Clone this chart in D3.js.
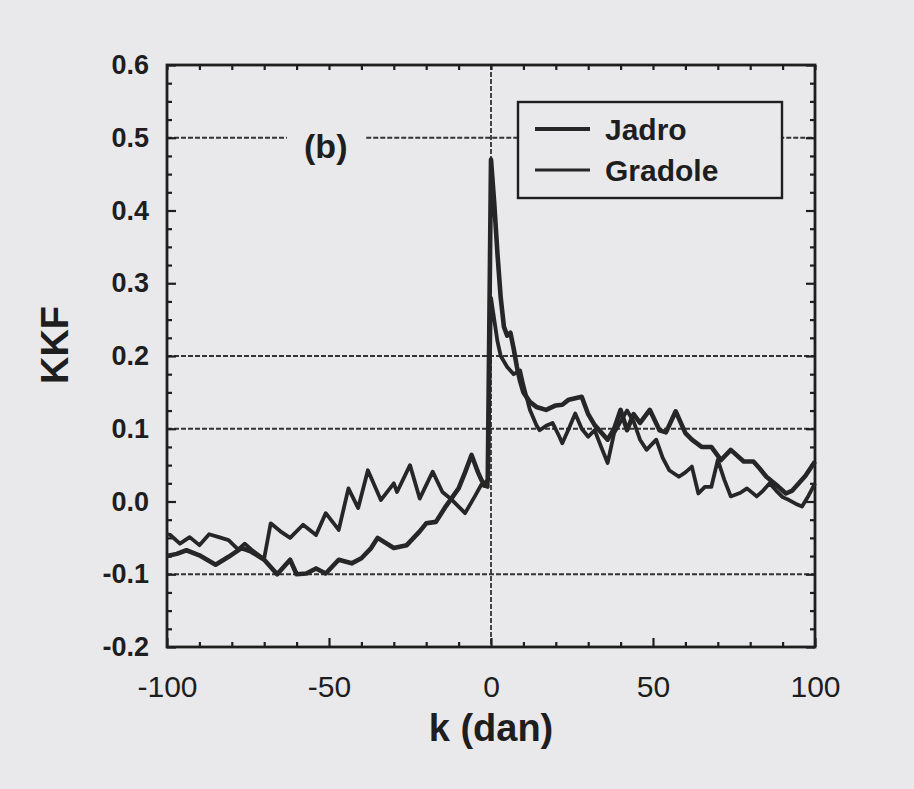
<!DOCTYPE html>
<html>
<head>
<meta charset="utf-8">
<script src="https://cdn.jsdelivr.net/npm/d3@7"></script>
<style>
  html, body { margin: 0; padding: 0; background: #e9e9ec; }
  text { font-family: "Liberation Sans", Arial, sans-serif; fill: #1e1e1e; }
</style>
</head>
<body>
<div id="chart"></div>
<script>
const canvas = {
  w: 914,
  h: 789
};

// values (k in days, KKF)
const jadroDays = [-100, -97, -94, -90, -85, -81, -77, -74, -70, -66, -62, -60, -57, -54, -51, -47, -43, -40, -37, -35, -30, -26, -22, -20, -17, -14, -10, -8, -6, -4, -3, -2, -1,
  0, 1, 2, 3, 4, 5, 6, 7, 8, 9, 10, 12, 14, 17, 20, 22, 24, 26, 28, 30, 32, 34, 36, 38, 40, 42, 44, 46, 49, 52, 54, 57, 60, 62, 65, 68, 71, 74, 78, 81, 83, 85, 88, 91, 93, 95, 97, 100];
const jadroKKF = [-0.075, -0.072, -0.067, -0.074, -0.087, -0.076, -0.064, -0.069, -0.080, -0.100, -0.080, -0.100, -0.099, -0.092, -0.099, -0.080, -0.085, -0.078, -0.064, -0.050, -0.064, -0.060, -0.041, -0.030, -0.028, -0.007, 0.018, 0.040, 0.064, 0.040, 0.030, 0.022, 0.030,
  0.470, 0.410, 0.340, 0.280, 0.240, 0.228, 0.232, 0.210, 0.185, 0.165, 0.150, 0.137, 0.130, 0.126, 0.132, 0.133, 0.140, 0.142, 0.144, 0.120, 0.105, 0.095, 0.085, 0.100, 0.126, 0.098, 0.120, 0.108, 0.126, 0.098, 0.095, 0.124, 0.094, 0.085, 0.075, 0.075, 0.057, 0.071, 0.055, 0.055, 0.045, 0.034, 0.023, 0.011, 0.015, 0.025, 0.035, 0.055];

const gradoleDays = [-100, -99, -96, -93, -90, -87, -84, -81, -78, -76, -74, -71, -70, -68, -65, -62, -58, -54, -51, -47, -44, -41, -38, -34, -30, -29, -25, -22, -18, -15, -12, -8, -5, -3, -1,
  0, 1, 2, 3, 5, 7, 9, 10, 12, 14, 15, 17, 19, 21, 22, 24, 26, 28, 30, 32, 34, 36, 38, 40, 42, 44, 46, 48, 51, 53, 55, 58, 60, 62, 64, 66, 68, 70, 72, 74, 77, 79, 82, 84, 86, 88, 90, 92, 94, 96, 98, 100];
const gradoleKKF = [-0.045, -0.046, -0.058, -0.049, -0.060, -0.045, -0.049, -0.053, -0.066, -0.058, -0.066, -0.076, -0.078, -0.030, -0.041, -0.050, -0.032, -0.046, -0.016, -0.039, 0.018, -0.009, 0.043, 0.002, 0.025, 0.013, 0.050, 0.004, 0.041, 0.013, 0.002, -0.016, 0.007, 0.023, 0.020,
  0.280, 0.250, 0.220, 0.200, 0.185, 0.175, 0.180, 0.160, 0.126, 0.105, 0.098, 0.104, 0.108, 0.090, 0.080, 0.100, 0.121, 0.100, 0.089, 0.098, 0.075, 0.053, 0.094, 0.110, 0.125, 0.110, 0.085, 0.071, 0.085, 0.060, 0.043, 0.034, 0.040, 0.048, 0.011, 0.020, 0.020, 0.057, 0.030, 0.007, 0.012, 0.018, 0.007, 0.015, 0.025, 0.015, 0.006, 0.002, -0.003, -0.007, 0.008, 0.025];

const xTicks = [-100, -50, 0, 50, 100];
const yTicks = [-0.2, -0.1, 0.0, 0.1, 0.2, 0.3, 0.4, 0.5, 0.6];
const gridValues = [0.5, 0.2, 0.1, -0.1];
const seriesNames = ["Jadro", "Gradole"];

const plot = { left: 167, right: 815, top: 65, bottom: 647 };
const ink = "#1e1e1e";

const x = d3.scaleLinear().domain([-100, 100]).range([plot.left, plot.right]);
const y = d3.scaleLinear().domain([-0.2, 0.6]).range([plot.bottom, plot.top]);

// plain hyphen for negatives, like the scan
const fmtX = d => d3.format("d")(d).replace("\u2212", "-");
const fmtY = d => d3.format(".1f")(d).replace("\u2212", "-");

const svg = d3
  .select("#chart")
  .append("svg")
  .attr("width", canvas.w)
  .attr("height", canvas.h)
  .attr("viewBox", `0 0 ${canvas.w} ${canvas.h}`)
  .style("display", "block")
  .style("background", "#e9e9ec");

// dashed grid lines (the 0.5 one has a gap for the "(b)" label)
const grid = svg.append("g")
  .attr("stroke", "#333")
  .attr("stroke-width", 1.8)
  .attr("stroke-dasharray", "5,2");

gridValues.forEach(v => {
  if (v === 0.5) {
    grid.append("line")
      .attr("x1", plot.left).attr("x2", x(-63))
      .attr("y1", y(v)).attr("y2", y(v));
    grid.append("line")
      .attr("x1", x(-38.5)).attr("x2", plot.right)
      .attr("y1", y(v)).attr("y2", y(v));
  } else {
    grid.append("line")
      .attr("x1", plot.left).attr("x2", plot.right)
      .attr("y1", y(v)).attr("y2", y(v));
  }
});

grid.append("line")
  .attr("x1", x(0)).attr("x2", x(0))
  .attr("y1", plot.top).attr("y2", plot.bottom);

// axes with inward ticks
const minorX = d3.range(-100, 101, 10).filter(d => d % 50 !== 0);
const minorY = d3.range(-0.2, 0.6001, 0.025).filter(d => Math.abs(Math.round(d * 10) - d * 10) > 0.01);

function styleAxis(g) {
  g.select(".domain").remove();
  g.selectAll(".tick line").attr("stroke", ink).attr("stroke-width", 2.2);
}

svg.append("g")
  .attr("transform", `translate(0,${plot.bottom})`)
  .call(d3.axisBottom(x).tickValues(minorX).tickSize(-5).tickFormat(""))
  .call(styleAxis);

svg.append("g")
  .attr("transform", `translate(0,${plot.bottom})`)
  .call(d3.axisBottom(x).tickValues(xTicks).tickSizeInner(-9).tickSizeOuter(0).tickPadding(29).tickFormat(fmtX))
  .call(styleAxis)
  .call(g => g.selectAll("text")
    .attr("font-size", 30)
    .attr("fill", ink)
    .style("font-family", "'Liberation Sans', Arial, sans-serif"));

svg.append("g")
  .attr("transform", `translate(0,${plot.top})`)
  .call(d3.axisTop(x).tickValues(d3.range(-100, 101, 10)).tickSize(-5).tickFormat(""))
  .call(styleAxis);

svg.append("g")
  .attr("transform", `translate(${plot.left},0)`)
  .call(d3.axisLeft(y).tickValues(minorY).tickSize(-5).tickFormat(""))
  .call(styleAxis);

svg.append("g")
  .attr("transform", `translate(${plot.left},0)`)
  .call(d3.axisLeft(y).tickValues(yTicks).tickSizeInner(-9).tickSizeOuter(0).tickPadding(18).tickFormat(fmtY))
  .call(styleAxis)
  .call(g => g.selectAll("text")
    .attr("font-size", 27)
    .attr("font-weight", "bold")
    .attr("fill", ink)
    .style("font-family", "'Liberation Sans', Arial, sans-serif"));

svg.append("g")
  .attr("transform", `translate(${plot.right},0)`)
  .call(d3.axisRight(y).tickValues(minorY).tickSize(-5).tickFormat(""))
  .call(styleAxis);

svg.append("g")
  .attr("transform", `translate(${plot.right},0)`)
  .call(d3.axisRight(y).tickValues(yTicks).tickSize(-9).tickFormat(""))
  .call(styleAxis);

// frame
svg.append("rect")
  .attr("x", plot.left)
  .attr("y", plot.top)
  .attr("width", plot.right - plot.left)
  .attr("height", plot.bottom - plot.top)
  .attr("fill", "none")
  .attr("stroke", ink)
  .attr("stroke-width", 2.8);

// series
const line = d3.line()
  .x(d => x(d[0]))
  .y(d => y(d[1]));

const series = [
  { name: seriesNames[0], pts: d3.zip(jadroDays, jadroKKF), width: 4.6 },
  { name: seriesNames[1], pts: d3.zip(gradoleDays, gradoleKKF), width: 3.8 }
];

svg.append("g")
  .selectAll("path")
  .data(series)
  .enter()
  .append("path")
  .attr("d", d => line(d.pts))
  .attr("fill", "none")
  .attr("stroke", "#262626")
  .attr("stroke-width", d => d.width)
  .attr("stroke-linejoin", "round");

// panel label
svg.append("text")
  .attr("x", x(-51))
  .attr("y", y(0.5) + 20)
  .attr("text-anchor", "middle")
  .attr("font-size", 34)
  .attr("font-weight", "bold")
  .text("(b)");

// legend
const legend = svg.append("g").attr("transform", "translate(518,102)");

legend.append("rect")
  .attr("width", 264)
  .attr("height", 96)
  .attr("fill", "#e9e9ec")
  .attr("stroke", ink)
  .attr("stroke-width", 2.4);

const legendRows = legend.selectAll("g.row")
  .data(series)
  .enter()
  .append("g")
  .attr("class", "row")
  .attr("transform", (d, i) => `translate(0,${27 + i * 41})`);

legendRows.append("line")
  .attr("x1", 17).attr("x2", 72)
  .attr("stroke", "#262626")
  .attr("stroke-width", d => d.width - 0.6);

legendRows.append("text")
  .attr("x", 87)
  .attr("y", 11)
  .attr("font-size", 30)
  .attr("font-weight", "bold")
  .text(d => d.name);

// axis titles
svg.append("text")
  .attr("transform", `translate(68,345) rotate(-90)`)
  .attr("text-anchor", "middle")
  .attr("font-size", 38)
  .attr("font-weight", "bold")
  .text("KKF");

svg.append("text")
  .attr("x", x(0))
  .attr("y", 741)
  .attr("text-anchor", "middle")
  .attr("font-size", 38)
  .attr("font-weight", "bold")
  .text("k (dan)");
</script>
</body>
</html>
